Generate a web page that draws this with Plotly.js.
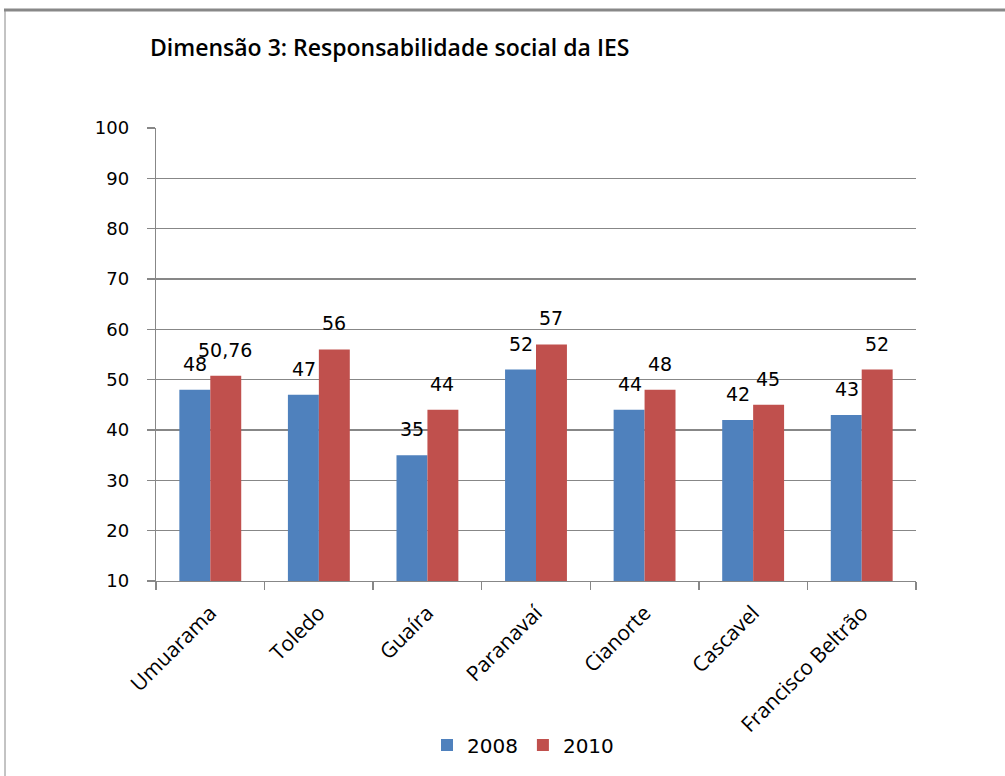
<!DOCTYPE html>
<html>
<head>
<meta charset="utf-8">
<script src="https://cdn.plot.ly/plotly-3.0.1.min.js"></script>
<style>html,body{margin:0;padding:0;background:#fff;}#chart{width:1005px;height:776px;}</style>
</head>
<body>
<div id="chart"></div>
<script>
const categories = ["Umuarama", "Toledo", "Guaíra", "Paranavaí", "Cianorte", "Cascavel", "Francisco Beltrão"];
const values2008 = [48, 47, 35, 52, 44, 42, 43];
const values2010 = [50.76, 56, 44, 57, 48, 45, 52];
const yTicks = [10, 20, 30, 40, 50, 60, 70, 80, 90, 100];

const fmt = v => String(v).replace('.', ',');
const blue = '#4F81BD', red = '#C0504D';
const labelFont = {family: 'DejaVu Sans', size: 19, color: '#000'};

const traces = [
  {type: 'bar', name: '2008', x: categories, y: values2008, marker: {color: blue}, hoverinfo: 'none'},
  {type: 'bar', name: '2010', x: categories, y: values2010, marker: {color: red}, hoverinfo: 'none'}
];

const annotations = [];
categories.forEach((c, i) => {
  annotations.push({x: c, y: values2008[i], xref: 'x', yref: 'y', text: fmt(values2008[i]), showarrow: false,
    xshift: -15, yshift: 26, yanchor: 'middle', font: labelFont});
  annotations.push({x: c, y: values2010[i], xref: 'x', yref: 'y', text: fmt(values2010[i]), showarrow: false,
    xshift: 15, yshift: 26, yanchor: 'middle', font: labelFont});
});

const L = 156, R = 89, T = 128, B = 195, W = 1005 - L - R, H = 776 - T - B;
const px2x = p => (p - L) / W;
const py2y = p => (776 - B - p) / H;

const layout = {
  width: 1005, height: 776,
  margin: {l: L, r: R, t: T, b: B, pad: 0},
  paper_bgcolor: '#fff', plot_bgcolor: '#fff',
  title: {text: 'Dimensão 3: Responsabilidade social da IES', x: 150/1005, xanchor: 'left', y: 1 - 48/776, yanchor: 'middle',
    font: {family: 'Open Sans', size: 23, color: '#000', weight: 600}},
  barmode: 'group', bargap: 0.43, bargroupgap: 0,
  showlegend: true,
  legend: {orientation: 'h', x: px2x(523), xanchor: 'center', y: py2y(745), yanchor: 'middle',
    font: {family: 'DejaVu Sans', size: 20, color: '#000'}, itemwidth: 30, traceorder: 'normal'},
  xaxis: {type: 'category', tickson: 'boundaries', ticks: 'outside', ticklen: 8, tickcolor: '#878787', tickwidth: 1.3,
    showline: true, linecolor: '#878787', linewidth: 1.3, showgrid: false, tickangle: -45, ticklabelstandoff: 10,
    tickfont: {family: 'Open Sans', size: 21, color: '#000'}, fixedrange: true},
  yaxis: {range: [10, 100], tickvals: yTicks, ticktext: yTicks.map(String), ticks: 'outside', ticklen: 8,
    tickcolor: '#878787', tickwidth: 1.3, showline: true, linecolor: '#878787', linewidth: 1.3,
    showgrid: true, gridcolor: '#878787', gridwidth: 1.5, zeroline: false, ticklabelstandoff: 14,
    tickfont: {family: 'DejaVu Sans', size: 18, color: '#000'}, fixedrange: true},
  annotations: annotations,
  shapes: [
    {type: 'line', xref: 'paper', yref: 'paper', x0: px2x(4), x1: px2x(1005), y0: py2y(10), y1: py2y(10), line: {color: '#888', width: 3}},
    {type: 'line', xref: 'paper', yref: 'paper', x0: px2x(5), x1: px2x(5), y0: py2y(10), y1: py2y(776), line: {color: '#888', width: 1}}
  ]
};

Plotly.newPlot('chart', traces, layout, {displayModeBar: false, staticPlot: true});
</script>
</body>
</html>
